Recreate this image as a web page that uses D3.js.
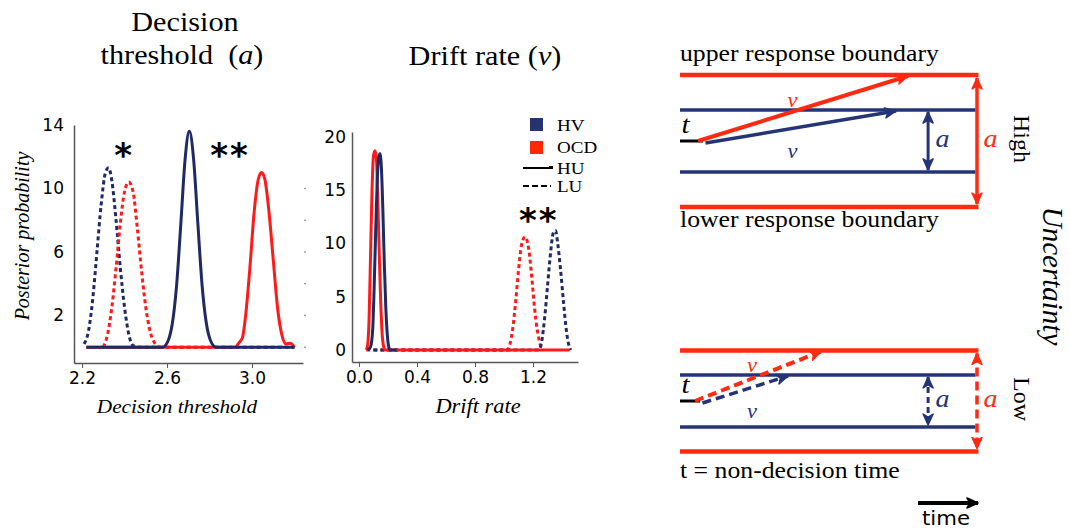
<!DOCTYPE html>
<html>
<head>
<meta charset="utf-8">
<script src="https://cdn.jsdelivr.net/npm/d3@7"></script>
<style>
  body { margin: 0; background: #fff; }
  svg { display: block; }
  .tick text { font-family: "DejaVu Sans", sans-serif; font-size: 17px; fill: #000; }
  .axis path.domain { stroke: #555; stroke-width: 1.5; }
  .axis .tick line { stroke: #555; }
</style>
</head>
<body>
<div id="chart"></div>
<script>
// ---- data ----
const groups = ["HV", "OCD"];
const conditions = ["HU", "LU"];

// Decision threshold posteriors, [a, density]
const thrHV_HU = [[2.22,0],[2.58,0],[2.605,0.4],[2.625,1.5],[2.645,3.9],[2.665,7.8],[2.685,11.85],[2.705,13.6],[2.725,11.85],[2.745,7.8],[2.765,3.9],[2.785,1.5],[2.805,0.4],[2.83,0],[3.2,0]];
const thrOCD_HU = [[2.22,0],[2.92,0],[2.94,0.3],[2.955,0.6],[2.97,2],[2.99,5],[3.01,8.5],[3.03,10.6],[3.045,11],[3.06,10.6],[3.08,8.5],[3.10,5.5],[3.12,2.5],[3.14,0.8],[3.16,0.2],[3.18,0.25],[3.2,0]];
const thrHV_LU = [[2.21,0.2],[2.23,1],[2.25,3],[2.27,6],[2.29,9],[2.31,11],[2.325,11.3],[2.34,10.5],[2.36,8],[2.38,5],[2.40,2.5],[2.42,0.8],[2.44,0.1],[2.47,0],[3.2,0]];
const thrOCD_LU = [[2.30,0],[2.32,0.8],[2.34,2.5],[2.36,5],[2.38,7.8],[2.40,9.8],[2.42,10.4],[2.44,9.8],[2.46,7.5],[2.48,4.8],[2.50,2.5],[2.52,1],[2.54,0.3],[2.56,0]];

// Drift rate posteriors, [v, density]
const drHV_HU = [[0.06,0],[0.08,0.3],[0.095,2],[0.105,6],[0.115,11],[0.125,15.5],[0.135,18],[0.145,18.4],[0.155,17],[0.165,13],[0.175,8],[0.185,4],[0.195,1.5],[0.205,0.3],[0.215,0],[0.26,0]];
const drOCD_HU = [[0.05,0],[0.06,0.5],[0.07,3],[0.08,9],[0.09,15],[0.10,18.2],[0.11,18.7],[0.12,18],[0.13,14],[0.14,9],[0.15,4.5],[0.16,1.5],[0.17,0.3],[0.18,0],[1.45,0]];
const drHV_LU = [[0.10,0],[1.24,0],[1.26,0.8],[1.28,3],[1.30,6],[1.32,9],[1.34,11],[1.355,11.2],[1.37,10],[1.39,7.5],[1.41,4.5],[1.43,1.8],[1.45,0.3],[1.46,0]];
const drOCD_LU = [[0.05,0],[1.02,0],[1.04,0.5],[1.06,2],[1.08,4.5],[1.10,7.5],[1.12,9.8],[1.145,10.6],[1.17,9.5],[1.19,7],[1.21,4],[1.23,1.8],[1.25,0.5],[1.27,0]];

const thrTicksX = [2.2, 2.6, 3.0];
const thrTicksY = [2, 6, 10, 14];
const thrMinorY = [0, 2, 4, 6, 8, 10];
const drTicksX = [0.0, 0.4, 0.8, 1.2];
const drTicksY = [0, 5, 10, 15, 20];

// significance stars: [x, height, label]
const thrStars = [[2.393, 12.3, "*"], [2.896, 12.3, "**"]];
const drStars = [[1.24, 12.5, "**"]];

// schematic of the drift diffusion model (time units, evidence units)
const diagPanels = ["High", "Low"];
const boundHV = [1.0, 0.84];      // half boundary separation, HV
const boundOCD = [2.13, 1.63];    // half boundary separation, OCD
const nonDecision = [0.77, 0.67];
const driftStart = [0.6, 0.5];
const driftEndHV = [7.2, 3.6];
const driftEndOCD = [7.6, 4.7];

const navy = "#1f2a64", red = "#ff1a1a";
const dNavy = "#253477", dRed = "#ff2a12";
const SERIF = "'Liberation Serif', 'Times New Roman', Times, serif";
const SX = 1.12;  // the figure's text is slightly wide

const svg = d3.select("#chart").append("svg")
  .attr("width", 1070).attr("height", 530);

function txt(g, x, y, s, size, opts = {}) {
  const rot = opts.rotate ? ` rotate(${opts.rotate})` : ` scale(${SX},1)`;
  return g.append("text")
    .attr("font-family", SERIF)
    .attr("transform", `translate(${x},${y})${rot}`)
    .attr("text-anchor", opts.anchor || "middle")
    .attr("font-size", size)
    .attr("font-style", opts.italic ? "italic" : null)
    .attr("fill", opts.color || "#000")
    .text(s);
}

// ---------- posterior panel ----------
function panel(cfg) {
  const x = d3.scaleLinear().domain(cfg.xd).range(cfg.xr);
  const y = d3.scaleLinear().domain(cfg.yd).range(cfg.yr);
  const g = svg.append("g");

  g.append("g").attr("class", "axis")
    .attr("transform", `translate(0,${cfg.yr[0]})`)
    .call(d3.axisBottom(x).tickValues(cfg.tx).tickFormat(d3.format(".1f")).tickSizeInner(5).tickSizeOuter(0).tickPadding(4));
  g.append("g").attr("class", "axis")
    .attr("transform", `translate(${cfg.xr[0]},0)`)
    .call(d3.axisLeft(y).tickValues(cfg.ty).tickSize(0).tickPadding(cfg.pad));

  const line = d3.line().x(d => x(d[0])).y(d => y(d[1])).curve(d3.curveMonotoneX);
  cfg.curves.forEach(c => {
    g.append("path").datum(c.data)
      .attr("fill", "none")
      .attr("stroke", c.color)
      .attr("stroke-width", 3)
      .attr("stroke-linejoin", "round")
      .attr("stroke-dasharray", c.dash ? "4,3" : null)
      .attr("d", line);
  });

  cfg.stars.forEach(s => {
    g.append("text")
      .attr("x", x(s[0])).attr("y", y(s[1]) + 15)
      .attr("text-anchor", "middle")
      .attr("font-family", "DejaVu Sans, sans-serif")
      .attr("font-weight", "bold")
      .attr("font-size", 34)
      .attr("letter-spacing", s[2].length > 1 ? 2 : 0)
      .text(s[2]);
  });
  return {x, y, g};
}

const pA = panel({
  xd: [2.162, 3.24], xr: [74, 303],
  yd: [-1.0, 14.0], yr: [363, 125],
  tx: thrTicksX, ty: thrTicksY, pad: 10,
  curves: [
    {data: thrHV_LU, color: navy, dash: true},
    {data: thrOCD_HU, color: red},
    {data: thrOCD_LU, color: red, dash: true},
    {data: thrHV_HU, color: navy}
  ],
  stars: thrStars
});
pA.g.selectAll(".minor").data(thrMinorY).join("circle")
  .attr("cx", 305).attr("cy", d => pA.y(d)).attr("r", 0.8).attr("fill", "#777");

const pB = panel({
  xd: [-0.048, 1.51], xr: [352, 578],
  yd: [-1.13, 20.45], yr: [362, 132],
  tx: drTicksX, ty: drTicksY, pad: 6,
  curves: [
    {data: drOCD_LU, color: red, dash: true},
    {data: drHV_LU, color: navy, dash: true},
    {data: drOCD_HU, color: red},
    {data: drHV_HU, color: navy}
  ],
  stars: drStars
});

// titles and axis labels
txt(svg, 185, 31, "Decision", 27);
const t2 = txt(svg, 182, 64, "threshold\u00a0\u00a0", 27);
t2.append("tspan").text("(");
t2.append("tspan").attr("font-style", "italic").text("a");
t2.append("tspan").text(")");
const t3 = txt(svg, 485, 65, "Drift rate (", 27);
t3.append("tspan").attr("font-style", "italic").text("v");
t3.append("tspan").text(")");
txt(svg, 177, 413, "Decision threshold", 19, {italic: true});
txt(svg, 478, 413, "Drift rate", 20, {italic: true});
txt(svg, 29, 236, "Posterior probability", 20, {italic: true, rotate: -90});

// legend
const leg = svg.append("g");
groups.forEach((gname, i) => {
  leg.append("rect").attr("x", 530).attr("y", 118 + i * 23).attr("width", 13).attr("height", 13)
    .attr("fill", i === 0 ? "#25336f" : "#ff2a00");
  txt(leg, 557, 131 + i * 22, gname, 17, {anchor: "start"});
});
conditions.forEach((c, i) => {
  const yy = 168 + i * 18;
  leg.append("line").attr("x1", 523).attr("x2", 551).attr("y1", yy).attr("y2", yy)
    .attr("stroke", "#000").attr("stroke-width", 2)
    .attr("stroke-dasharray", i === 1 ? "6,3" : null);
  if (i === 0) leg.append("rect").attr("x", 549).attr("y", yy - 2).attr("width", 4).attr("height", 3);
  txt(leg, 557, yy + 6, c, 17, {anchor: "start"});
});

// ---------- drift diffusion schematic ----------
const defs = svg.append("defs");
[["hNavy", dNavy], ["hRed", dRed], ["hBlack", "#000"]].forEach(([id, col]) => {
  defs.append("marker").attr("id", id)
    .attr("viewBox", "-12 -6 14 12").attr("refX", 0).attr("refY", 0)
    .attr("markerWidth", 14).attr("markerHeight", 12).attr("markerUnits", "userSpaceOnUse")
    .attr("orient", "auto-start-reverse")
    .append("path").attr("d", "M-11,-5 L0,0 L-11,5 L-8,0 Z")
    .attr("fill", col).attr("stroke", col).attr("stroke-width", 1.5).attr("stroke-linejoin", "round");
});

const tx = d3.scaleLinear().domain([0, 10]).range([680, 980]);
const centers = [141, 401];
const pxPerUnit = 31;

diagPanels.forEach((name, i) => {
  const ey = d3.scaleLinear().domain([-1, 1]).range([centers[i] + pxPerUnit, centers[i] - pxPerUnit]);
  const g = svg.append("g");
  const dash = i === 1 ? "9,5" : null;

  // boundaries
  [boundHV[i], -boundHV[i]].forEach(b => g.append("line")
    .attr("x1", tx(0)).attr("x2", tx(9.85)).attr("y1", ey(b)).attr("y2", ey(b))
    .attr("stroke", dNavy).attr("stroke-width", 3.5));
  [boundOCD[i], -boundOCD[i]].forEach(b => g.append("line")
    .attr("x1", tx(0)).attr("x2", tx(9.95)).attr("y1", ey(b)).attr("y2", ey(b))
    .attr("stroke", dRed).attr("stroke-width", 4.5));

  // non-decision time
  g.append("line").attr("x1", tx(0)).attr("x2", tx(nonDecision[i]))
    .attr("y1", ey(0)).attr("y2", ey(0)).attr("stroke", "#000").attr("stroke-width", 3);
  txt(g, tx(0.05), ey(0) - 8, "t", 26, {italic: true, anchor: "start"});

  // drift arrows
  g.append("line").attr("x1", tx(driftStart[i])).attr("y1", ey(0))
    .attr("x2", tx(driftEndOCD[i])).attr("y2", ey(boundOCD[i]) + 1)
    .attr("stroke", dRed).attr("stroke-width", 4).attr("stroke-dasharray", dash)
    .attr("marker-end", "url(#hRed)");
  g.append("line").attr("x1", tx(driftStart[i] + 0.25)).attr("y1", ey(0) + 2)
    .attr("x2", tx(driftEndHV[i])).attr("y2", ey(boundHV[i]) + 1)
    .attr("stroke", dNavy).attr("stroke-width", 3.5).attr("stroke-dasharray", dash)
    .attr("marker-end", "url(#hNavy)");
  const vx = i === 0 ? 3.75 : 2.4;
  txt(g, tx(vx), ey(boundOCD[i] * (i === 0 ? 0.6 : 0.7)) + 6, "v", 20, {italic: true, color: dRed});
  txt(g, tx(vx), ey(-0.35) + 6, "v", 20, {italic: true, color: dNavy});

  // separation arrows
  g.append("line").attr("x1", tx(8.27)).attr("x2", tx(8.27))
    .attr("y1", ey(boundHV[i]) + 2).attr("y2", ey(-boundHV[i]) - 2)
    .attr("stroke", dNavy).attr("stroke-width", 3).attr("stroke-dasharray", i === 1 ? "6,4" : null)
    .attr("marker-start", "url(#hNavy)").attr("marker-end", "url(#hNavy)");
  g.append("line").attr("x1", tx(9.9)).attr("x2", tx(9.9))
    .attr("y1", ey(boundOCD[i]) + 3).attr("y2", ey(-boundOCD[i]) - 3)
    .attr("stroke", dRed).attr("stroke-width", 3.5).attr("stroke-dasharray", dash)
    .attr("marker-start", "url(#hRed)").attr("marker-end", "url(#hRed)");
  txt(g, tx(8.75), ey(0) + 6, "a", 25, {italic: true, color: dNavy});
  txt(g, tx(10.35), ey(0) + 6, "a", 25, {italic: true, color: dRed});

  txt(g, 1014, ey(0) - 2, name, 24, {rotate: 90});
});

txt(svg, 680, 61, "upper response boundary", 23, {anchor: "start"});
txt(svg, 680, 227, "lower response boundary", 23, {anchor: "start"});
txt(svg, 680, 478, "t = non-decision time", 23, {anchor: "start"});
txt(svg, 1043, 276, "Uncertainty", 29, {italic: true, rotate: 90});

// time arrow
svg.append("line").attr("x1", 918).attr("x2", 978).attr("y1", 503).attr("y2", 503)
  .attr("stroke", "#000").attr("stroke-width", 4).attr("marker-end", "url(#hBlack)");
svg.append("text").attr("transform", `translate(946,525) scale(${SX},1)`)
  .attr("text-anchor", "middle").attr("font-family", "DejaVu Sans, sans-serif")
  .attr("font-size", 19).text("time");
</script>
</body>
</html>
